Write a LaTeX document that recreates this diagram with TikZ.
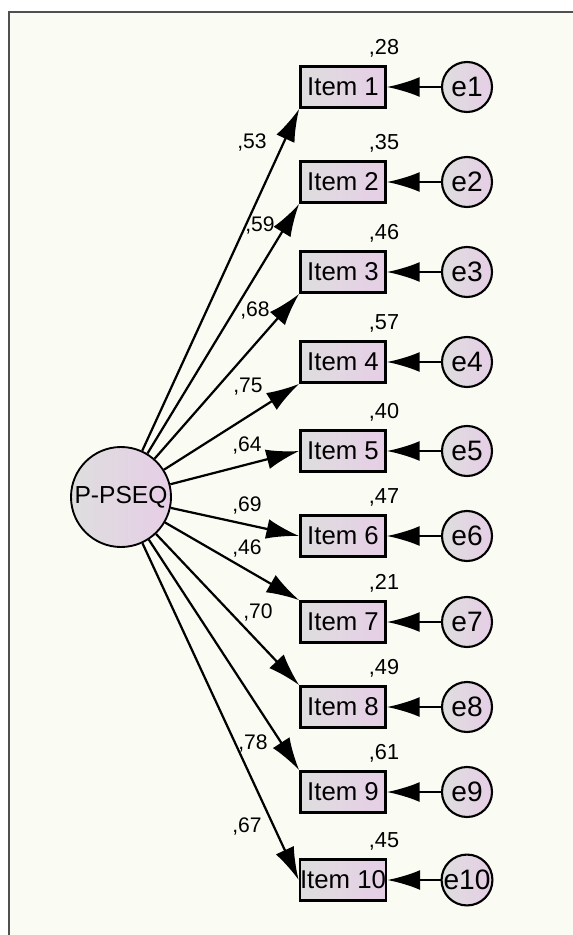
\documentclass[tikz,border=0pt]{standalone}
\usepackage{fontspec}
\setmainfont{Liberation Sans}
\usetikzlibrary{arrows.meta}
\definecolor{bgcol}{HTML}{FAFCF4}
\definecolor{fillgray}{HTML}{DEDEDE}
\definecolor{fillpink}{HTML}{E6CEE6}
\definecolor{framecol}{HTML}{505050}

\begin{document}
\begin{tikzpicture}[x=0.03cm,y=-0.03cm,>={Latex[length=28pt,width=17pt]}]
    \tikzstyle{lnode} = [draw, line width=1.6pt, circle, minimum size=3.0cm, inner sep=0pt, left color=fillgray, right color=fillpink, font=\fontsize{21}{21}\selectfont]
    \tikzstyle{inode} = [draw, line width=2.3pt, rectangle, minimum width=2.55cm, minimum height=1.23cm, inner sep=0pt, left color=fillgray, right color=fillpink, font=\fontsize{22}{22}\selectfont]
    \tikzstyle{enode} = [draw, line width=1.8pt, circle, minimum size=1.5cm, inner sep=0pt, left color=fillgray, right color=fillpink, font=\fontsize{24}{24}\selectfont]
    \tikzstyle{rlabel} = [font=\fontsize{18.5}{18.5}\selectfont, inner sep=0pt]
    \tikzstyle{wlabel} = [font=\fontsize{18}{18}\selectfont, inner sep=0pt]
    \tikzstyle{path} = [->, line width=1.9pt]

    \useasboundingbox (0,0) rectangle (573,935);
    \fill[white] (0,0) rectangle (573,935);
    \fill[bgcol] (9,12) rectangle (573,935);
    \draw[framecol, line width=1.8pt] (9,935) -- (9,12) -- (573,12);

    \node[lnode] (pseq) at (121,497) {P-PSEQ};

    \node[inode] (i1) at (343,87) {Item 1};
    \node[inode] (i2) at (343,182) {Item 2};
    \node[inode] (i3) at (343,272) {Item 3};
    \node[inode] (i4) at (343,362) {Item 4};
    \node[inode] (i5) at (343,451) {Item 5};
    \node[inode] (i6) at (343,536) {Item 6};
    \node[inode] (i7) at (343,622) {Item 7};
    \node[inode] (i8) at (343,707) {Item 8};
    \node[inode] (i9) at (343,792) {Item 9};
    \node[inode] (i10) at (343,880) {Item 10};

    \node[enode] (e1) at (467,87) {e1};
    \node[enode] (e2) at (467,182) {e2};
    \node[enode] (e3) at (467,272) {e3};
    \node[enode] (e4) at (467,362) {e4};
    \node[enode] (e5) at (467,451) {e5};
    \node[enode] (e6) at (467,536) {e6};
    \node[enode] (e7) at (467,622) {e7};
    \node[enode] (e8) at (467,707) {e8};
    \node[enode] (e9) at (467,792) {e9};
    \node[enode] (e10) at (467,880) {e10};

    % squared multiple correlations
    \node[rlabel] (r1) at (384,48) {,28};
    \node[rlabel] (r2) at (384,143) {,35};
    \node[rlabel] (r3) at (384,233) {,46};
    \node[rlabel] (r4) at (384,323) {,57};
    \node[rlabel] (r5) at (384,412) {,40};
    \node[rlabel] (r6) at (384,497) {,47};
    \node[rlabel] (r7) at (384,583) {,21};
    \node[rlabel] (r8) at (384,668) {,49};
    \node[rlabel] (r9) at (384,753) {,61};
    \node[rlabel] (r10) at (384,841) {,45};

    % loadings
    \node[wlabel] (w1) at (252,142) {,53};
    \node[wlabel] (w2) at (260,225) {,59};
    \node[wlabel] (w3) at (255,310) {,68};
    \node[wlabel] (w4) at (248,387) {,75};
    \node[wlabel] (w5) at (247,445) {,64};
    \node[wlabel] (w6) at (247,505) {,69};
    \node[wlabel] (w7) at (247,548) {,46};
    \node[wlabel] (w8) at (258,612) {,70};
    \node[wlabel] (w9) at (253,743) {,78};
    \node[wlabel] (w10) at (247,826) {,67};

    \draw[path] (pseq) -- (i1.south west);
    \draw[path] (pseq) -- (i2.south west);
    \draw[path] (pseq) -- (i3.south west);
    \draw[path] (pseq) -- (i4.south west);
    \draw[path] (pseq) -- (i5.west);
    \draw[path] (pseq) -- (i6.west);
    \draw[path] (pseq) -- (i7.north west);
    \draw[path] (pseq) -- (i8.north west);
    \draw[path] (pseq) -- (i9.north west);
    \draw[path] (pseq) -- (i10.west);

    \draw[path] (e1) -- (i1);
    \draw[path] (e2) -- (i2);
    \draw[path] (e3) -- (i3);
    \draw[path] (e4) -- (i4);
    \draw[path] (e5) -- (i5);
    \draw[path] (e6) -- (i6);
    \draw[path] (e7) -- (i7);
    \draw[path] (e8) -- (i8);
    \draw[path] (e9) -- (i9);
    \draw[path] (e10) -- (i10);
\end{tikzpicture}
\end{document}
